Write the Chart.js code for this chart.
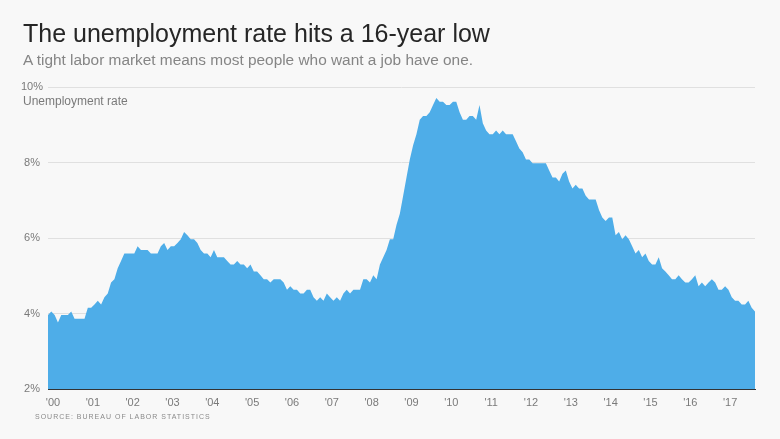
<!DOCTYPE html>
<html>
<head>
<meta charset="utf-8">
<script src="https://cdn.jsdelivr.net/npm/chart.js@4.4.1/dist/chart.umd.min.js"></script>
<style>
  body { margin: 0; background: #f8f8f8; font-family: "Liberation Sans", Arial, sans-serif; }
  #wrap { position: relative; width: 780px; height: 439px; overflow: hidden; }
  #wrap canvas { position: absolute; left: 0; top: 0; }
  .txt { position: absolute; margin: 0; white-space: nowrap; line-height: 1; font-weight: normal; }
  #title { left: 23px; top: 21px; font-size: 25px; color: #262626; }
  #sub { left: 23px; top: 52px; font-size: 15.4px; color: #858585; }
  #ylab { left: 23px; top: 95px; font-size: 12px; color: #7a7a7a; }
  #source { left: 35px; top: 413px; font-size: 7px; letter-spacing: 1px; color: #8a8a8a; }
</style>
</head>
<body>
<div id="wrap">
  <canvas id="chart" width="780" height="439"></canvas>
  <h1 class="txt" id="title">The unemployment rate hits a 16-year low</h1>
  <p class="txt" id="sub">A tight labor market means most people who want a job have one.</p>
  <p class="txt" id="ylab">Unemployment rate</p>
  <p class="txt" id="source">SOURCE: BUREAU OF LABOR STATISTICS</p>
</div>
<script>
// tick labels for the x axis, one per year (shown at January)
const yearLabels = ["'00", "'01", "'02", "'03", "'04", "'05", "'06", "'07", "'08",
  "'09", "'10", "'11", "'12", "'13", "'14", "'15", "'16", "'17"];

const yTicks = [2, 4, 6, 8, 10];

// monthly unemployment rate (%), Jan 2000 - Oct 2017
const rate = [
  3.96, 4.05, 3.96, 3.76, 3.96, 3.96, 3.96, 4.05, 3.86, 3.86, 3.86, 3.86, // 2000
  4.15, 4.15, 4.24, 4.34, 4.24, 4.43, 4.53, 4.82, 4.91, 5.20, 5.39, 5.59, // 2001
  5.59, 5.59, 5.59, 5.78, 5.68, 5.68, 5.68, 5.59, 5.59, 5.59, 5.78, 5.87, // 2002
  5.68, 5.78, 5.78, 5.87, 5.97, 6.16, 6.07, 5.97, 5.97, 5.87, 5.68, 5.59, // 2003
  5.59, 5.49, 5.68, 5.49, 5.49, 5.49, 5.39, 5.30, 5.30, 5.39, 5.30, 5.30, // 2004
  5.20, 5.30, 5.11, 5.11, 5.01, 4.91, 4.91, 4.82, 4.91, 4.91, 4.91, 4.82, // 2005
  4.63, 4.72, 4.63, 4.63, 4.53, 4.53, 4.63, 4.63, 4.43, 4.34, 4.43, 4.34, // 2006
  4.53, 4.43, 4.34, 4.43, 4.34, 4.53, 4.63, 4.53, 4.63, 4.63, 4.63, 4.91, // 2007
  4.91, 4.82, 5.01, 4.91, 5.30, 5.49, 5.68, 5.97, 5.97, 6.35, 6.64, 7.12, // 2008
  7.60, 8.08, 8.46, 8.75, 9.13, 9.23, 9.23, 9.33, 9.52, 9.71, 9.61, 9.61, // 2009
  9.52, 9.52, 9.61, 9.61, 9.33, 9.13, 9.13, 9.23, 9.23, 9.13, 9.52, 9.04, // 2010
  8.85, 8.75, 8.75, 8.85, 8.75, 8.85, 8.75, 8.75, 8.75, 8.56, 8.37, 8.27, // 2011
  8.08, 8.08, 7.98, 7.98, 7.98, 7.98, 7.98, 7.79, 7.60, 7.60, 7.50, 7.70, // 2012
  7.79, 7.50, 7.31, 7.41, 7.31, 7.31, 7.12, 7.02, 7.02, 7.02, 6.74, 6.54, // 2013
  6.45, 6.54, 6.54, 6.07, 6.16, 5.97, 6.07, 5.97, 5.78, 5.59, 5.68, 5.49, // 2014
  5.59, 5.39, 5.30, 5.30, 5.49, 5.20, 5.11, 5.01, 4.91, 4.91, 5.01, 4.91, // 2015
  4.82, 4.82, 4.91, 5.01, 4.72, 4.82, 4.72, 4.82, 4.91, 4.82, 4.63, 4.63, // 2016
  4.72, 4.63, 4.43, 4.34, 4.34, 4.24, 4.24, 4.34, 4.15, 4.05              // 2017
];

const months = rate.map((v, i) => (2000 + Math.floor(i / 12)) + '-' + (i % 12 + 1));

new Chart(document.getElementById('chart'), {
  type: 'line',
  data: {
    labels: months,
    datasets: [{
      data: rate,
      fill: 'start',
      backgroundColor: '#4eade8',
      borderWidth: 0,
      pointRadius: 0,
      tension: 0
    }]
  },
  options: {
    responsive: false,
    animation: false,
    events: [],
    layout: { padding: { top: 87, right: 25, bottom: 0, left: 0 } },
    plugins: { legend: { display: false }, tooltip: { enabled: false } },
    scales: {
      x: {
        grid: { display: false, drawTicks: false },
        border: { display: true, color: '#333', width: 1 },
        afterFit: s => { s.height = 50; },
        ticks: {
          autoSkip: false,
          maxRotation: 0,
          padding: 7,
          labelOffset: 5,
          color: '#7a7a7a',
          font: { family: '"Liberation Sans", Arial, sans-serif', size: 11 },
          callback: (v, i) => i % 12 === 0 ? yearLabels[i / 12] : ''
        }
      },
      y: {
        min: yTicks[0],
        max: yTicks[yTicks.length - 1],
        afterFit: s => { s.width = 48; },
        afterBuildTicks: s => { s.ticks = yTicks.map(v => ({ value: v })); },
        grid: { color: '#e0e0e0', lineWidth: 1, drawTicks: false },
        border: { display: false },
        ticks: {
          padding: 5,
          crossAlign: 'center',
          color: '#7a7a7a',
          font: { family: '"Liberation Sans", Arial, sans-serif', size: 11 },
          callback: v => v + '%'
        }
      }
    }
  }
});
</script>
</body>
</html>
